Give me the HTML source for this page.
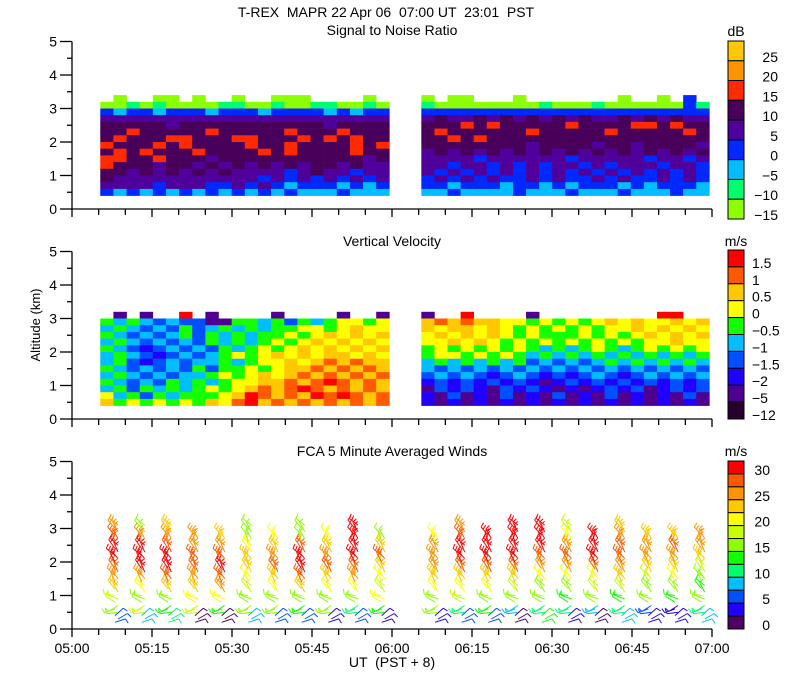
<!DOCTYPE html>
<html><head><meta charset="utf-8">
<style>
html,body{margin:0;padding:0;background:#fff;}
svg{display:block;font-family:"Liberation Sans",sans-serif;}
text{font-size:14px;fill:#000;}
</style></head>
<body>
<svg id="chart" width="800" height="700" viewBox="0 0 800 700">
<text x="386" y="17" text-anchor="middle" xml:space="preserve">T-REX  MAPR 22 Apr 06  07:00 UT  23:01  PST</text>
<text x="392" y="35" text-anchor="middle">Signal to Noise Ratio</text>
<text x="392" y="246" text-anchor="middle">Vertical Velocity</text>
<text x="392" y="456" text-anchor="middle">FCA 5 Minute Averaged Winds</text>
<text x="392" y="667" text-anchor="middle" xml:space="preserve">UT  (PST + 8)</text>
<text transform="translate(40,325) rotate(-90)" text-anchor="middle" style="font-size:13px">Altitude (km)</text>
<text x="736" y="36" text-anchor="middle">dB</text>
<text x="736" y="246" text-anchor="middle">m/s</text>
<text x="736" y="456" text-anchor="middle">m/s</text>
<g id="layer"></g>
</svg>
<script>
// ---- data ----
var xTickLabels = ["05:00","05:15","05:30","05:45","06:00","06:15","06:30","06:45","07:00"];
var yTickLabels = ["0","1","2","3","4","5"];
var snrColors = ["#ffc800","#ff9400","#ff2a00","#48005a","#50009b","#0028ff","#00beff","#00ff6e","#8cff00"];
var snrLabels = ["25","20","15","10","5","0","\u22125","\u221210","\u221215"];
var vvColors = ["#ff0000","#ff5a00","#ffc800","#ffff00","#14ff00","#00beff","#0050ff","#2000ff","#500090","#280030"];
var vvLabels = ["1.5","1","0.5","0","\u22120.5","\u22121","\u22121.5","\u22122","\u22125","\u221212"];
var windColors = ["#ff0000","#ff5a00","#ff9400","#ffc800","#ffff00","#c8ff00","#8cff00","#14ff00","#00ff6e","#00beff","#0050ff","#2000ff","#500064"];
var windLabels = ["30","25","20","15","10","5","0"];
// segment time extents (minutes after 05:00)
var segStart = [5.3, 65.5];
var segEnd = [59.5, 119.5];
// SNR codes: 0=-15 lime ... 8=25 amber ('.' = no data); rows from 3.4 km down to 0.4 km in 0.2 km steps
var snrSeg1 = [
".0..00.0..0..000....0.",
"0010100001100100110010",
"3233233323332333323233",
"4444444444444444444444",
"5555545555555555545555",
"5565555565555565556555",
"5655566555665556565655",
"6555656555565565555656",
"5656555655556565555655",
"6655655545555555555545",
"6555455454545454554544",
"5545454545444434544344",
"5444444444443434343434",
"4444344433434323332323",
"3232323232323232223222"];
var snrSeg2 = [
"0.00...0.......0..0.3.",
"1000000001000100000031",
"3333333333333333333333",
"4544545454545445454544",
"5556565555565555665655",
"5655555565555565555565",
"5565655555555555555555",
"5555555545555455455554",
"4545454545454545454545",
"4444344444434444434434",
"4434434343443434443443",
"4343434343434343434343",
"3434343343433434334343",
"3323332332323332323332",
"2232222322232223222322"];
// VV codes: 0=-12 ... 9=1.5; rows 3.2 km down to 0.4 km
var vvSeg1 = [
".1.1..9.1....1....1..1",
"5454343311554535456656",
"4543435345454556656766",
"5434345354545565676767",
"4543434354545656767676",
"5432343435456567676767",
"4543234345656767677676",
"4532343445456676787877",
"5434343535565677878787",
"4543434456567678787878",
"5434354545667787898787",
"4535454565678789878787",
"6453545556798787989878",
"7565656576897878787878"];
var vvSeg2 = [
"1..9....1.........99..",
"7878776656565676766767",
"7677676565656566767676",
"6767676565556565676767",
"6676765656565656566766",
"5656565654545654565656",
"5665656545454545454545",
"4545454534343454545454",
"4343434343434343434343",
"3434323432323432343434",
"2323232321232323232323",
"1323213232121232312323",
"2131213121312131212131",
"2121212121212121212121"];
// winds: profile times (min after 05:00), speeds (m/s) at levels 0.3..3.0 km
var windTimes = [7.5,12.5,17.5,22.5,27.5,32.5,37.5,42.5,47.5,52.5,57.5,67.5,72.5,77.5,82.5,87.5,92.5,97.5,102.5,107.5,112.5,117.5];
var windLevels = [0.3,0.6,0.9,1.2,1.5,1.8,2.1,2.4,2.7,3.0];
var windSpeeds = [
[6,14,18,22,25,27,28,30,27,25],
[8,18,15,20,25,28,30,28,25,14],
[10,12,15,22,27,30,28,27,25,22],
[2,18,20,22,24,26,27,25,24,null],
[2,12,20,24,26,28,27,25,22,null],
[8,16,14,18,20,22,23,20,16,16],
[5,14,16,20,22,26,24,22,20,null],
[6,12,14,22,26,28,30,26,15,14],
[4,14,16,20,22,26,24,22,20,null],
[6,10,14,20,24,27,28,30,30,29],
[4,12,20,18,20,22,26,22,16,null],
[4,14,16,20,22,24,25,24,20,null],
[6,10,18,20,22,26,28,29,27,25],
[5,12,16,20,22,26,28,29,30,null],
[2,8,14,18,22,26,28,30,30,28],
[12,10,14,16,20,24,26,28,30,30],
[4,10,12,16,20,24,26,24,20,18],
[2,8,14,18,20,26,28,30,30,null],
[8,10,12,18,22,24,26,27,24,22],
[4,6,14,16,18,22,24,25,22,null],
[4,4,12,16,20,22,24,26,22,null],
[8,10,14,12,16,18,22,24,25,null]];
var windDirs = [30,200,160,130,125,125,130,125,120,130];

// ---- drawing ----
var NS = "http://www.w3.org/2000/svg";
var layer = document.getElementById("layer");
var X0 = 72, X1 = 712, KM = 33.5;
var bases = [209, 419, 629];
function xs(t){ return X0 + t*(X1-X0)/120; }
function ys(p, km){ return bases[p] - km*KM; }
function mk(tag, attrs, parent){
  var e = document.createElementNS(NS, tag);
  for (var k in attrs) e.setAttribute(k, attrs[k]);
  (parent||layer).appendChild(e); return e;
}
function heat(p, segs, colors, topKm, name){
  var g = mk("g", {});
  
  
  for (var s=0; s<2; s++){
    var rows = segs[s], n = rows[0].length, w = (segEnd[s]-segStart[s])/n;
    for (var r=0; r<rows.length; r++){
      var hTop = topKm - r*0.2;
      for (var c=0; c<n; c++){
        var ch = rows[r][c]; if (ch === ".") continue;
        var xa = xs(segStart[s]+c*w), xb = xs(segStart[s]+(c+1)*w);
        var cell = mk("rect", {x:xa.toFixed(2), y:ys(p,hTop).toFixed(2), width:(xb-xa+0.3).toFixed(2), height:(0.2*KM+0.3).toFixed(2), fill:colors[+ch]}, g);
        
        
      }
    }
  }
}
var snrIdx = snrColors.slice().reverse();
var vvIdx = vvColors.slice().reverse();
heat(0, [snrSeg1, snrSeg2], snrIdx, 3.4, "snr-heatmap");
heat(1, [vvSeg1, vvSeg2], vvIdx, 3.2, "vv-heatmap");

// winds
var wg = mk("g", {"stroke-width":"1", fill:"none"});


for (var i=0; i<windTimes.length; i++){
  var x0 = xs(windTimes[i]);
  for (var l=0; l<windLevels.length; l++){
    var sp = windSpeeds[i][l]; if (sp === null) continue;
    var ci = Math.max(0, Math.min(12, 12 - Math.floor(sp/30*13)));
    var col = windColors[ci];
    for (var k=0; k<3; k++){
      var h = windLevels[l] - 0.1 + k*0.1;
      var a = (windDirs[l] + (k-1)*12) * Math.PI/180;
      var bx = x0 + 3 + ((k+l)%2)*3, by = ys(2, h);
      var ex = bx + 11*Math.cos(a), ey = by - 11*Math.sin(a);
      var d = "M"+bx.toFixed(1)+" "+by.toFixed(1)+"L"+ex.toFixed(1)+" "+ey.toFixed(1);
      var nf = Math.min(2, Math.max(1, Math.round(sp/14)));
      for (var f=0; f<nf; f++){
        var fx = ex - f*3*Math.cos(a), fy = ey + f*3*Math.sin(a);
        var fa = a - Math.PI/2.4;
        d += "M"+fx.toFixed(1)+" "+fy.toFixed(1)+"L"+(fx+5*Math.cos(fa)).toFixed(1)+" "+(fy-5*Math.sin(fa)).toFixed(1);
      }
      var bp = mk("path", {d:d, stroke:col}, wg);
      
      
    }
  }
}

// axes
for (var p=0; p<3; p++){
  var ag = mk("g", {stroke:"#000", "stroke-width":"1.3"});
  
  
  mk("line", {x1:X0, y1:ys(p,5), x2:X0, y2:bases[p]}, ag);
  mk("line", {x1:X0, y1:bases[p], x2:X1, y2:bases[p]}, ag);
  for (var v=0; v<=10; v++){
    var yy = ys(p, v/2);
    mk("line", {x1:X0-(v%2?5:12), y1:yy, x2:X0, y2:yy}, ag);
  }
  for (var t=0; t<=120; t+=5){
    var xx = xs(t);
    mk("line", {x1:xx, y1:bases[p], x2:xx, y2:bases[p]+(t%15?6:8)}, ag);
  }
  for (var j=0; j<yTickLabels.length; j++){
    var tl = mk("text", {x:57, y:ys(p,j)+5, "text-anchor":"end"});
    tl.textContent = yTickLabels[j];
    
    
  }
}
for (var j=0; j<xTickLabels.length; j++){
  var xl = mk("text", {x:xs(j*15), y:653, "text-anchor":"middle"});
  xl.textContent = xTickLabels[j];
  
  
}

// colorbars
function cbar(top, bot, colors, labels, step, anchor, lx, name){
  var g = mk("g", {});
  
  
  var h = (bot-top)/colors.length;
  for (var i=0; i<colors.length; i++){
    var b = mk("rect", {x:728, y:(top+i*h).toFixed(2), width:16, height:h.toFixed(2), fill:colors[i], stroke:"#000", "stroke-width":"1"}, g);
    
    
  }
  for (var i=0; i<labels.length; i++){
    var by = top + (i*step + 1)*h;
    var t = mk("text", {x:lx, y:(by+1).toFixed(1), "text-anchor":anchor}, g);
    t.textContent = labels[i];
    
    
  }
}
cbar(41, 219, snrColors, snrLabels, 1, "end", 778, "snr-colorbar");
cbar(250, 419, vvColors, vvLabels, 1, "start", 752, "vv-colorbar");
cbar(461, 629, windColors, windLabels, 2, "end", 770, "wind-colorbar");
</script>
</body></html>
